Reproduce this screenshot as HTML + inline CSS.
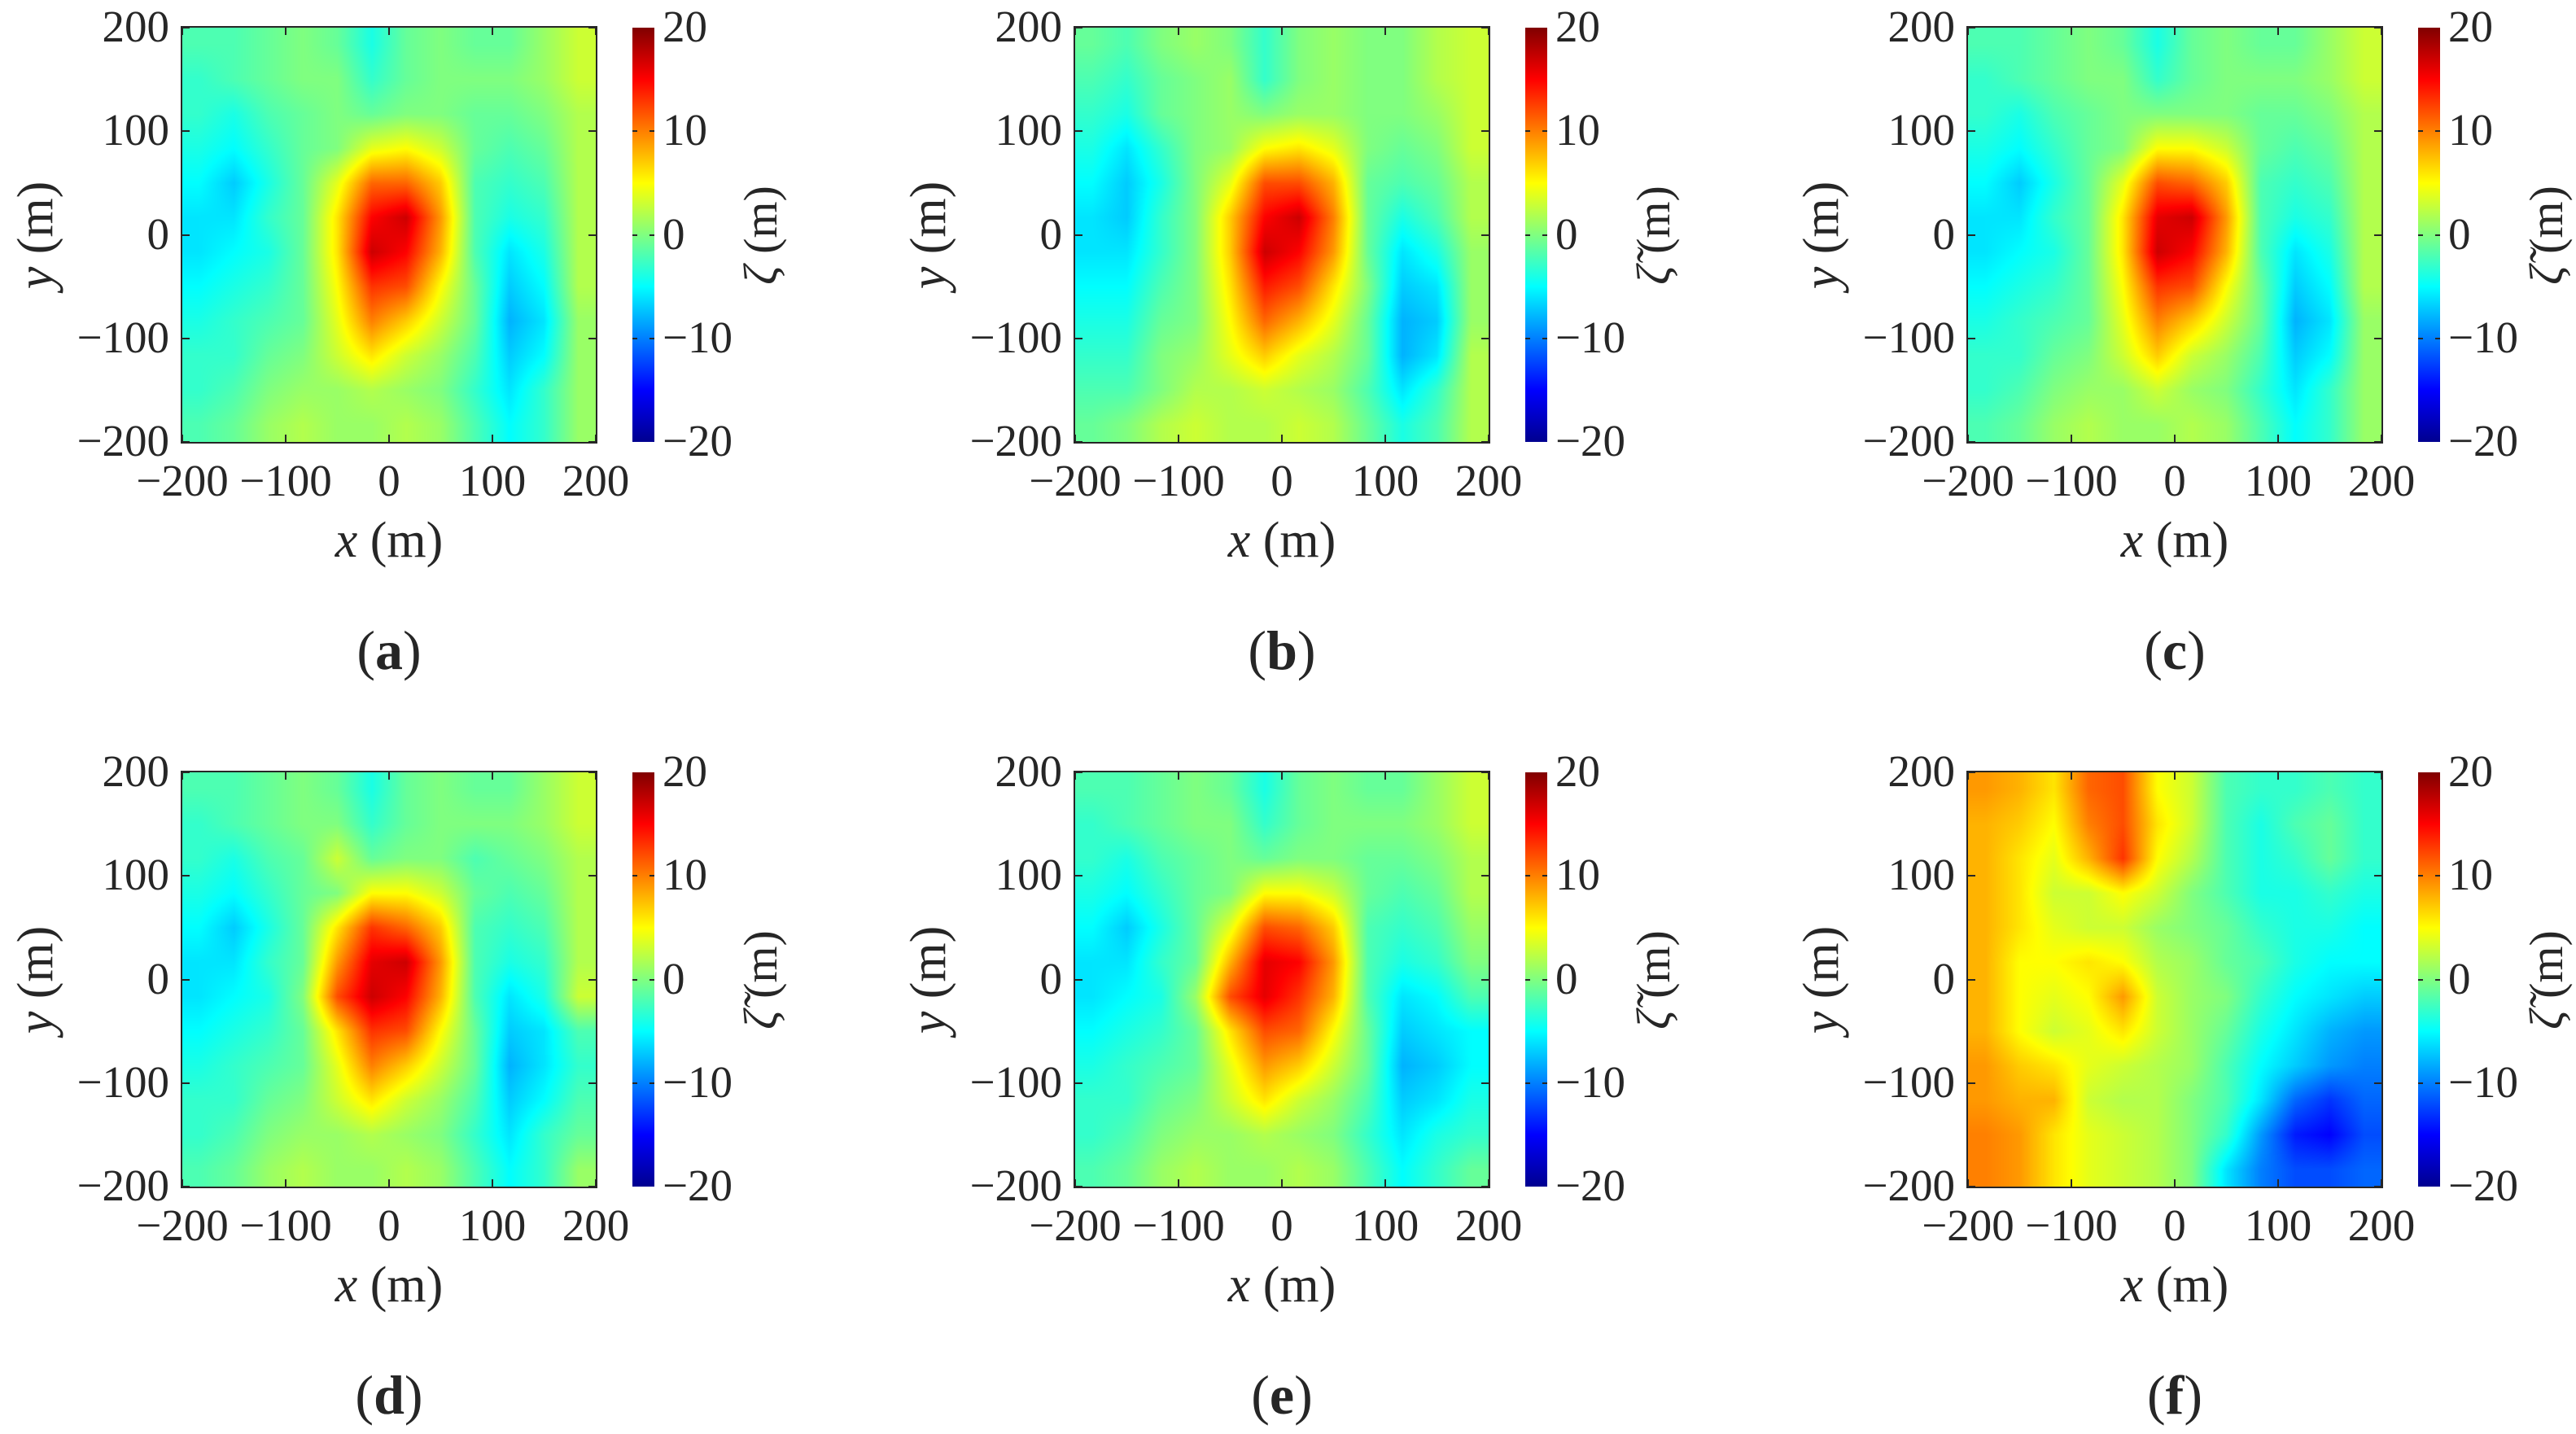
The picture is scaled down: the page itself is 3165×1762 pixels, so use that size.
<!DOCTYPE html>
<html><head><meta charset="utf-8">
<style>
body{margin:0;background:#fff;}
#root{position:relative;width:3165px;height:1762px;overflow:hidden;background:#fff;font-family:"Liberation Serif",serif;color:#262626;}
.abs{position:absolute;}
.tick{position:absolute;font-size:55px;line-height:55px;white-space:nowrap;}
</style></head>
<body>
<div id="root"></div>
<script>
const xTicks = [-200,-100,0,100,200];
const yTicks = [200,100,0,-100,-200];
const cTicks = [20,10,0,-10,-20];
const panelLetters = ['a','b','c','d','e','f'];
const cbarTitles = ['ζ','ζ̃','ζ̃','ζ̃','ζ̃','ζ̃'];
// grids: 12x12, rows top (y=200) to bottom (y=-200), cols left to right
const fieldA = [
[-2,-2,-1,0,-1,-4,-1,0,-1,-1,1,3],
[-3,-2,-1,0,0,-3,-1,0,0,0,1,3],
[-3,-4,-2,-1,0,-1,0,0,-1,-1,0,2],
[-4,-5,-3,-1,0,4,5,3,-1,-2,-1,2],
[-5,-7,-4,-1,4,11,11,7,-2,-3,-2,2],
[-6,-6,-3,-1,6,15,17,9,-2,-4,-3,2],
[-6,-5,-4,-1,6,17,15,8,-2,-6,-4,2],
[-5,-4,-3,-1,5,13,12,5,-1,-7,-5,2],
[-4,-3,-2,-1,4,10,7,3,-1,-8,-6,1],
[-3,-3,-1,0,3,6,3,1,-2,-7,-5,1],
[-3,-2,0,1,1,2,1,0,-3,-6,-3,1],
[-2,-1,1,2,1,1,2,1,-2,-5,-3,1]];
const fieldB = [
[-1,-2,0,1,0,-3,0,1,0,0,2,3],
[-2,-3,-1,0,1,-3,0,1,0,0,2,3],
[-3,-4,-1,0,1,0,1,1,0,0,1,3],
[-4,-6,-3,0,1,5,6,4,0,-1,0,3],
[-5,-7,-4,0,4,12,12,8,-1,-2,-1,2],
[-6,-7,-3,0,7,15,17,10,-1,-4,-2,2],
[-6,-6,-3,0,7,17,15,9,-1,-6,-4,1],
[-5,-5,-2,0,6,14,12,6,0,-7,-6,1],
[-4,-4,-1,0,5,11,8,4,-1,-8,-7,1],
[-3,-3,0,1,4,7,4,2,-1,-8,-6,2],
[-2,-2,0,2,2,3,2,1,-2,-6,-3,2],
[-1,0,2,3,2,2,3,2,-1,-4,-2,2]];
const fieldC = [
[-2,-2,-1,0,-1,-4,-1,0,-1,-1,1,3],
[-3,-2,-1,0,0,-3,-1,0,0,0,1,3],
[-3,-4,-2,-1,0,0,0,0,-1,-1,0,2],
[-4,-5,-3,-1,0,5,5,3,-1,-2,-1,2],
[-5,-7,-4,-1,4,12,11,7,-2,-3,-2,2],
[-6,-6,-3,-1,6,16,17,9,-2,-4,-3,2],
[-6,-5,-4,-1,6,17,15,8,-2,-6,-4,2],
[-5,-4,-3,-1,5,13,12,5,-1,-7,-5,2],
[-4,-3,-2,-1,4,10,7,3,-1,-8,-6,1],
[-3,-3,-1,0,3,7,3,1,-2,-7,-5,1],
[-3,-2,0,1,1,3,1,0,-3,-6,-3,1],
[-2,-1,1,2,1,1,2,1,-2,-5,-3,1]];
const fieldD = [
[-2,-2,-1,0,-1,-4,-1,0,-1,-1,1,3],
[-3,-2,-1,0,0,-3,-1,0,0,0,1,3],
[-3,-4,-2,-1,3,-1,0,0,-2,-1,0,2],
[-4,-5,-3,-1,0,5,5,3,-1,-2,-1,2],
[-5,-7,-4,-1,6,13,11,7,-2,-3,-2,2],
[-6,-6,-3,-1,9,16,17,9,-2,-4,-3,2],
[-6,-5,-4,0,12,17,15,8,-2,-6,-4,3],
[-5,-4,-3,-1,6,13,12,5,-1,-7,-6,-2],
[-4,-3,-2,-1,4,10,7,3,-1,-8,-6,-3],
[-3,-3,-1,0,3,6,3,1,-2,-7,-5,-2],
[-3,-2,0,1,1,2,1,0,-3,-6,-3,-1],
[-2,-1,1,2,1,1,2,1,-2,-5,-3,1]];
const fieldE = [
[-2,-2,-1,0,-1,-4,-1,0,-1,-1,1,3],
[-3,-2,-1,0,0,-3,-1,0,0,0,1,3],
[-3,-4,-2,-1,0,-1,0,0,-1,-1,0,2],
[-4,-5,-3,-1,0,5,5,3,-1,-2,-1,2],
[-5,-7,-4,-1,4,12,11,7,-2,-3,-2,1],
[-6,-6,-3,-1,8,16,15,9,-2,-4,-3,0],
[-6,-5,-4,1,12,16,13,8,-2,-6,-5,-2],
[-5,-4,-3,-1,6,12,11,5,-1,-7,-6,-5],
[-4,-3,-2,-1,4,9,7,3,-1,-8,-7,-5],
[-3,-3,-1,0,3,6,3,1,-2,-7,-6,-4],
[-3,-2,0,1,1,2,1,0,-3,-6,-4,-3],
[-2,-1,1,2,1,1,2,1,-2,-5,-3,-1]];
const fieldF = [
[9,8,6,11,12,5,3,-2,-3,-3,-2,-3],
[8,7,5,10,12,6,3,-2,-4,-2,-1,-3],
[8,6,4,8,13,5,2,-2,-4,-3,-1,-3],
[8,6,3,3,5,3,0,-2,-4,-4,-3,-4],
[8,6,4,3,3,1,0,-1,-3,-4,-4,-5],
[8,5,5,6,5,2,1,-1,-2,-4,-5,-5],
[8,5,4,5,9,3,1,0,-3,-5,-6,-7],
[8,5,3,4,6,3,1,-1,-4,-6,-8,-9],
[9,7,6,4,3,2,1,-2,-5,-7,-9,-10],
[9,8,8,3,2,2,0,-2,-6,-11,-13,-11],
[10,9,6,4,3,2,0,-3,-9,-14,-15,-12],
[10,9,6,4,3,2,0,-6,-10,-12,-12,-11]];
const fields = [fieldA, fieldB, fieldC, fieldD, fieldE, fieldF];

const root = document.getElementById('root');
const PW = 508, PH = 509;
const X0 = 224, Y0 = 34, DX = 1097, DY = 915;
const CB_OFF = 553, CB_W = 27;
const xScale = v => (v + 200) / 400 * PW;
const yScale = v => (200 - v) / 400 * PH;
const cScale = v => (20 - v) / 40 * PH;

function jet(t){
  t = Math.max(0, Math.min(1, t));
  const c = x => Math.max(0, Math.min(1, x));
  return [c(1.5 - Math.abs(4*t - 3)), c(1.5 - Math.abs(4*t - 2)), c(1.5 - Math.abs(4*t - 1))];
}
function mk(tag, cls){ const e = document.createElement(tag); if(cls) e.className = cls; return e; }

for (let p = 0; p < 6; p++){
  const ox = X0 + (p % 3) * DX, oy = Y0 + Math.floor(p / 3) * DY;
  const grid = fields[p];
  const n = grid.length, m = grid[0].length;

  const cv = mk('canvas','abs');
  
  
  cv.width = PW; cv.height = PH;
  cv.style.left = ox + 'px'; cv.style.top = oy + 'px';
  const ctx = cv.getContext('2d');
  const img = ctx.createImageData(PW, PH);
  for (let py = 0; py < PH; py++){
    let v = (py + 0.5) / PH * n - 0.5; v = Math.max(0, Math.min(n - 1.001, v));
    const r0 = Math.floor(v), fy = v - r0;
    for (let px = 0; px < PW; px++){
      let u = (px + 0.5) / PW * m - 0.5; u = Math.max(0, Math.min(m - 1.001, u));
      const c0 = Math.floor(u), fx = u - c0;
      const val = grid[r0][c0]*(1-fx)*(1-fy) + grid[r0][c0+1]*fx*(1-fy) + grid[r0+1][c0]*(1-fx)*fy + grid[r0+1][c0+1]*fx*fy;
      const col = jet((val + 20) / 40);
      const i = (py * PW + px) * 4;
      img.data[i] = col[0]*255; img.data[i+1] = col[1]*255; img.data[i+2] = col[2]*255; img.data[i+3] = 255;
    }
  }
  ctx.putImageData(img, 0, 0);
  root.appendChild(cv);

  const frame = mk('div','abs');
  
  
  frame.style.cssText = `left:${ox-2}px;top:${oy-2}px;width:${PW}px;height:${PH}px;border:2px solid #262626;`;
  root.appendChild(frame);

  xTicks.forEach(t => {
    const x = ox + xScale(t);
    ['top','bottom'].forEach(side => {
      const tk = mk('div','abs');
      
      
      tk.style.cssText = `left:${x-1}px;top:${side==='top'?oy:oy+PH-9}px;width:2px;height:9px;background:#262626;`;
      root.appendChild(tk);
    });
    const lb = mk('div','tick');
    
    
    lb.textContent = (t < 0 ? '\u2212' : '') + Math.abs(t);
    lb.style.left = (x - 100) + 'px'; lb.style.width = '200px'; lb.style.textAlign = 'center';
    lb.style.top = (oy + PH + 20) + 'px';
    root.appendChild(lb);
  });
  yTicks.forEach(t => {
    const y = oy + yScale(t);
    ['left','right'].forEach(side => {
      const tk = mk('div','abs');
      
      
      tk.style.cssText = `left:${side==='left'?ox:ox+PW-9}px;top:${y-1}px;width:9px;height:2px;background:#262626;`;
      root.appendChild(tk);
    });
    const lb = mk('div','tick');
    
    
    lb.textContent = (t < 0 ? '\u2212' : '') + Math.abs(t);
    lb.style.left = (ox - 220) + 'px'; lb.style.width = '204px'; lb.style.textAlign = 'right';
    lb.style.top = (y - 29) + 'px';
    root.appendChild(lb);
  });

  const xl = mk('div','tick');
  
  
  xl.innerHTML = '<i>x</i>&nbsp;(m)';
  xl.style.fontSize = '62px'; xl.style.lineHeight = '62px';
  xl.style.left = (ox + PW/2 - 150) + 'px'; xl.style.width = '300px'; xl.style.textAlign = 'center';
  xl.style.top = (oy + PH + 90) + 'px';
  root.appendChild(xl);

  const yl = mk('div','tick');
  
  
  yl.innerHTML = '<i>y</i>&nbsp;(m)';
  yl.style.fontSize = '62px'; yl.style.lineHeight = '62px';
  yl.style.left = (ox - 330) + 'px'; yl.style.width = '300px'; yl.style.textAlign = 'center';
  yl.style.top = (oy + PH/2 - 31) + 'px';
  yl.style.transform = 'rotate(-90deg)';
  root.appendChild(yl);

  const cbx = ox + CB_OFF;
  const cb = mk('div','abs');
  
  
  cb.style.cssText = `left:${cbx}px;top:${oy}px;width:${CB_W}px;height:${PH}px;background:linear-gradient(to top,#00008f 0%,#0000ff 12.5%,#00ffff 37.5%,#ffff00 62.5%,#ff0000 87.5%,#800000 100%);`;
  root.appendChild(cb);
  cTicks.forEach(t => {
    const y = oy + cScale(t);
    if (t !== 20 && t !== -20){
      ['l','r'].forEach(s => {
        const tk = mk('div','abs');
        
        
        tk.style.cssText = `left:${s==='l'?cbx:cbx+CB_W-6}px;top:${y-1}px;width:6px;height:2px;background:#262626;`;
        root.appendChild(tk);
      });
    }
    const lb = mk('div','tick');
    
    
    lb.textContent = (t < 0 ? '\u2212' : '') + Math.abs(t);
    lb.style.left = (cbx + CB_W + 10) + 'px';
    lb.style.top = (y - 29) + 'px';
    root.appendChild(lb);
  });
  const ct = mk('div','tick');
  
  
  ct.innerHTML = '<i>' + cbarTitles[p] + '</i>&nbsp;(m)';
  ct.style.fontSize = '58px'; ct.style.lineHeight = '62px';
  ct.style.left = (cbx + 158 - 150) + 'px'; ct.style.width = '300px'; ct.style.textAlign = 'center';
  ct.style.top = (oy + PH/2 - 31) + 'px';
  ct.style.transform = 'rotate(-90deg)';
  root.appendChild(ct);

  const pl = mk('div','tick');
  
  
  pl.innerHTML = '(<b>' + panelLetters[p] + '</b>)';
  pl.style.fontSize = '68px'; pl.style.lineHeight = '68px';
  pl.style.left = (ox + PW/2 - 150) + 'px'; pl.style.width = '300px'; pl.style.textAlign = 'center';
  pl.style.top = (oy + 731) + 'px';
  root.appendChild(pl);
}
</script>
</body></html>
